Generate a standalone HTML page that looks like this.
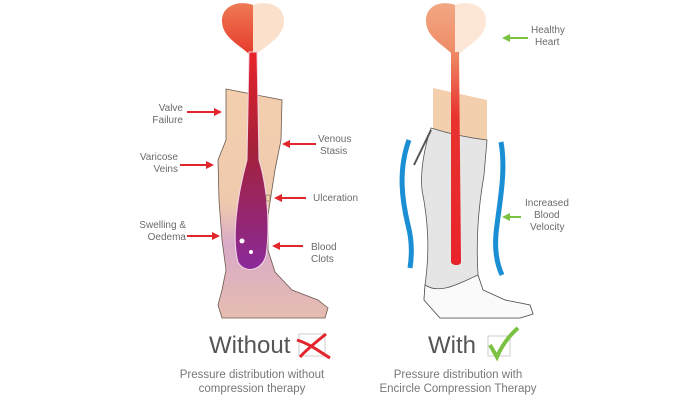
<!DOCTYPE html>
<html><head><style>
body{margin:0;background:#fff;}
svg{display:block;font-family:"Liberation Sans",sans-serif;}
</style></head><body>
<svg width="700" height="402" viewBox="0 0 700 402">
<defs>
<linearGradient id="skinL" x1="0" y1="0" x2="0" y2="1">
<stop offset="0" stop-color="#f3cfae"/><stop offset="0.5" stop-color="#efc9ad"/><stop offset="0.68" stop-color="#d9aac8"/><stop offset="1" stop-color="#e6bdb0"/></linearGradient>
<linearGradient id="stemL" x1="0" y1="0" x2="0" y2="1">
<stop offset="0" stop-color="#e9232a"/><stop offset="0.45" stop-color="#a3213a"/><stop offset="1" stop-color="#8a2a9a"/></linearGradient>
<linearGradient id="heartL" x1="0" y1="0" x2="0" y2="1"><stop offset="0" stop-color="#ee7a55"/><stop offset="1" stop-color="#e63a2a"/></linearGradient>
<linearGradient id="stemR" x1="0" y1="0" x2="0" y2="1"><stop offset="0" stop-color="#ee8a66"/><stop offset="0.3" stop-color="#e8332f"/><stop offset="1" stop-color="#e8232a"/></linearGradient>
<linearGradient id="heartR" x1="0" y1="0" x2="0" y2="1"><stop offset="0" stop-color="#f1a883"/><stop offset="1" stop-color="#ef8a66"/></linearGradient>
</defs>
<!-- LEFT -->
<path d="M226,89 L282,100 L281,140 L275,170 L268,215 L268,250 L275,272 L292,290 L318,300 L328,308 L325,318 L222,318 L218,305 L222,290 L226,270 L222,240 L219,200 L218,160 L226,140 Z" fill="url(#skinL)" stroke="#6b5a4f" stroke-width="0.8"/>
<path d="M253,5 C240,0 221,5 222,22 C223,38 240,45 250,55 L253,55 Z" fill="url(#heartL)"/>
<path d="M253,5 C266,0 285,5 284,22 C283,38 266,45 256,55 L253,55 Z" fill="#fbe0cc"/>
<path d="M249,52 L257,52 L259,160 C268,190 270,230 266,255 C263,270 245,275 238,262 C232,240 236,200 247,160 Z" fill="url(#stemL)" stroke="#f2d6e8" stroke-width="1"/>
<circle cx="242" cy="241" r="2.5" fill="#fff"/><circle cx="251" cy="252" r="2" fill="#fff"/>
<rect x="266" y="195" width="4" height="6" fill="#f3cfae" stroke="#6b5a4f" stroke-width="0.5"/>
<g fill="#e0252b" stroke="#e0252b" stroke-width="2">
<line x1="187" y1="112" x2="216" y2="112"/><path d="M222,112 L214,108 L214,116Z" stroke="none"/>
<line x1="180" y1="165" x2="208" y2="165"/><path d="M214,165 L206,161 L206,169Z" stroke="none"/>
<line x1="187" y1="236" x2="214" y2="236"/><path d="M220,236 L212,232 L212,240Z" stroke="none"/>
<line x1="316" y1="144" x2="288" y2="144"/><path d="M282,144 L290,140 L290,148Z" stroke="none"/>
<line x1="306" y1="198" x2="280" y2="198"/><path d="M274,198 L282,194 L282,202Z" stroke="none"/>
<line x1="303" y1="246" x2="278" y2="246"/><path d="M272,246 L280,242 L280,250Z" stroke="none"/>
</g>
<g fill="#6b6b6b" font-size="10">
<text x="183" y="111" text-anchor="end">Valve</text><text x="183" y="123" text-anchor="end">Failure</text>
<text x="178" y="160" text-anchor="end">Varicose</text><text x="178" y="172" text-anchor="end">Veins</text>
<text x="186" y="228" text-anchor="end">Swelling &amp;</text><text x="186" y="240" text-anchor="end">Oedema</text>
<text x="318" y="142">Venous</text><text x="320" y="154">Stasis</text>
<text x="313" y="201">Ulceration</text>
<text x="311" y="250">Blood</text><text x="311" y="262">Clots</text>
<text x="531" y="33">Healthy</text><text x="535" y="45">Heart</text>
<text x="525" y="206">Increased</text><text x="534" y="218">Blood</text><text x="530" y="230">Velocity</text>
</g>
<!-- RIGHT -->
<path d="M433,88 L487,100 L487,145 L433,145 Z" fill="#f3cfae"/>
<path d="M431,128 C450,134 470,138 487,140 L484,175 C478,210 476,240 478,275 L483,290 L505,300 L530,305 L533,314 L520,318 L440,318 L424,300 L425,285 C430,250 428,220 422,190 C420,170 425,145 431,128 Z" fill="#e5e5e5" stroke="#555" stroke-width="0.8"/>
<path d="M425,285 C440,295 460,283 478,275 L483,290 L505,300 L530,305 L533,314 L520,318 L440,318 L424,300 Z" fill="#fafafa" stroke="#555" stroke-width="0.8"/>
<path d="M431,130 L414,165" stroke="#555" stroke-width="2"/>
<path d="M455,5 C442,0 425,5 426,22 C427,38 444,45 453,55 L455,55 Z" fill="url(#heartR)"/>
<path d="M455,5 C468,0 487,5 486,22 C485,38 468,45 458,55 L455,55 Z" fill="#fde6d6"/>
<path d="M451,52 L459,52 L461,262 C461,266 452,266 451,262 Z" fill="url(#stemR)"/>
<path d="M409,140 C398,170 402,200 408,225 C412,240 412,255 410,268" fill="none" stroke="#1a8fd3" stroke-width="5"/>
<path d="M501,142 C506,170 500,200 497,225 C494,245 496,262 502,275" fill="none" stroke="#1a8fd3" stroke-width="5"/>
<g fill="#7cc242" stroke="#7cc242" stroke-width="2">
<line x1="528" y1="38" x2="509" y2="38"/><path d="M502,38 L510,34 L510,42Z" stroke="none"/>
<line x1="521" y1="217" x2="509" y2="217"/><path d="M502,217 L510,213 L510,221Z" stroke="none"/>
</g>
<!-- bottom -->
<text x="209" y="353" font-size="24" fill="#555">Without</text>
<rect x="299" y="334" width="26" height="22" fill="none" stroke="#ccc"/>
<path d="M297,340 C310,344 320,352 330,358 M326,334 C316,342 306,350 300,357" stroke="#e3242b" stroke-width="3" fill="none"/>
<text x="428" y="353" font-size="24" fill="#555">With</text>
<rect x="488" y="336" width="22" height="20" fill="none" stroke="#ccc"/>
<path d="M490,345 L497,357 C502,345 510,335 518,328" stroke="#7cc242" stroke-width="4" fill="none"/>
<g font-size="11.5" fill="#777" text-anchor="middle">
<text x="252" y="378">Pressure distribution without</text><text x="252" y="392">compression therapy</text>
<text x="458" y="378">Pressure distribution with</text><text x="458" y="392">Encircle Compression Therapy</text>
</g>
</svg>
</body></html>
